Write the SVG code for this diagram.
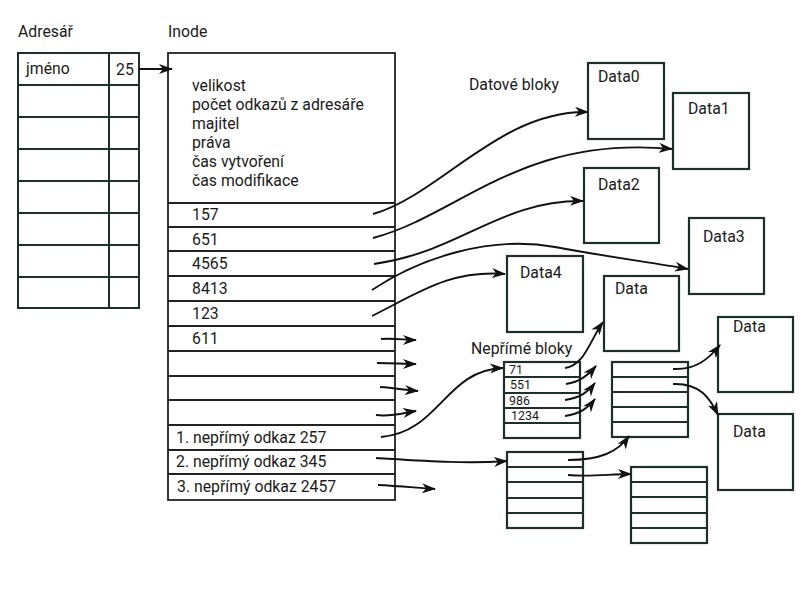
<svg xmlns="http://www.w3.org/2000/svg" width="808" height="589" viewBox="0 0 808 589">
<style>
text{font-family:Roboto,"Liberation Sans",sans-serif;font-size:15.8px;fill:#1a1a1a}
.sm{font-size:12.4px}
.dir{fill:#fff;stroke:#1e2e28;stroke-width:2}
.ino{fill:#fff;stroke:#222;stroke-width:1.8}
.blk{fill:#fff;stroke:#1e2e28;stroke-width:2.2}
.ln{stroke:#1e2e28;stroke-width:2;fill:none}
.il{stroke:#222;stroke-width:1.8;fill:none}
.c{fill:none;stroke:#111;stroke-width:1.9;marker-end:url(#ah)}
</style>
<defs>
<marker id="ah" viewBox="0 0 14 10" refX="13" refY="5" markerWidth="14" markerHeight="10" markerUnits="userSpaceOnUse" orient="auto">
<path d="M0,0 L14,5 L0,10 L4,5 z" fill="#111"/>
</marker>
</defs>
<rect width="808" height="589" fill="#fff"/>
<text x="18" y="37">Adresář</text>
<text x="168" y="37">Inode</text>
<text x="469" y="90">Datové bloky</text>
<text x="471" y="354">Nepřímé bloky</text>

<g id="adresar">
<rect class="dir" x="18" y="53" width="121" height="255"/>
<path class="ln" d="M109,53V308M18,85H139M18,117H139M18,149H139M18,181H139M18,213H139M18,245H139M18,277H139"/>
<text x="26" y="74">jméno</text>
<text x="116" y="75">25</text>
</g>

<g id="inode">
<rect class="ino" x="168" y="53" width="227" height="447"/>
<path class="il" d="M168,203H395M168,227H395M168,251H395M168,276H395M168,301H395M168,326H395M168,351H395M168,376H395M168,400H395M168,425H395M168,450H395M168,474H395"/>
<text x="192" y="91">velikost</text>
<text x="192" y="110">počet odkazů z adresáře</text>
<text x="192" y="129">majitel</text>
<text x="192" y="148">práva</text>
<text x="192" y="167">čas vytvoření</text>
<text x="192" y="186">čas modifikace</text>
<text x="192" y="220">157</text>
<text x="192" y="245">651</text>
<text x="192" y="269">4565</text>
<text x="192" y="294">8413</text>
<text x="192" y="319">123</text>
<text x="192" y="344">611</text>
<text x="176" y="443">1. nepřímý odkaz 257</text>
<text x="176" y="467">2. nepřímý odkaz 345</text>
<text x="177" y="492">3. nepřímý odkaz 2457</text>
</g>

<g id="data0"><rect class="blk" x="588" y="63" width="76" height="76"/><text x="598" y="82">Data0</text></g>
<g id="data1"><rect class="blk" x="673" y="93" width="76" height="76"/><text x="688" y="114">Data1</text></g>
<g id="data2"><rect class="blk" x="584" y="168" width="75" height="75"/><text x="598" y="190">Data2</text></g>
<g id="data3"><rect class="blk" x="689" y="218" width="75" height="76"/><text x="703" y="242">Data3</text></g>
<g id="data4"><rect class="blk" x="507" y="256" width="76" height="76"/><text x="520" y="278">Data4</text></g>
<g id="data5"><rect class="blk" x="604" y="276" width="75" height="75"/><text x="615" y="294">Data</text></g>
<g id="data6"><rect class="blk" x="718" y="317" width="75" height="75"/><text x="733" y="332">Data</text></g>
<g id="data7"><rect class="blk" x="718" y="414" width="75" height="76"/><text x="733" y="437">Data</text></g>

<g id="neprimy1">
<rect class="blk" x="504" y="362" width="76" height="76"/>
<path class="ln" d="M504,377H580M504,393H580M504,408H580M504,423H580"/>
<text class="sm" x="509" y="374">71</text>
<text class="sm" x="510" y="389">551</text>
<text class="sm" x="509" y="405">986</text>
<text class="sm" x="511" y="420">1234</text>
</g>
<g id="neprimy2">
<rect class="blk" x="507" y="452" width="76" height="76"/>
<path class="ln" d="M507,467H583M507,482H583M507,498H583M507,513H583"/>
</g>
<g id="neprimy3">
<rect class="blk" x="612" y="362" width="76" height="75"/>
<path class="ln" d="M612,377H688M612,392H688M612,407H688M612,422H688"/>
</g>
<g id="neprimy4">
<rect class="blk" x="631" y="467" width="76" height="76"/>
<path class="ln" d="M631,482H707M631,497H707M631,513H707M631,528H707"/>
</g>

<g id="connectors">
<path class="c" d="M139,69H172"/>
<path class="c" d="M373,214C440,195 500,110 588,112"/>
<path class="c" d="M373,238C460,215 520,135 672,149"/>
<path class="c" d="M374,264C460,252 500,200 583,201"/>
<path class="c" d="M372,290C420,258 490,235 555,247S650,262 688,269"/>
<path class="c" d="M372,316C420,292 450,270 505,274"/>
<path class="c" d="M381,339C395,338 405,340 416,340"/>
<path class="c" d="M377,363C392,363 404,364 416,364"/>
<path class="c" d="M380,387C395,388 405,390 418,391"/>
<path class="c" d="M376,415C392,417 403,413 416,411"/>
<path class="c" d="M381,437C440,432 445,370 503,368"/>
<path class="c" d="M376,458C425,461 465,464 507,461"/>
<path class="c" d="M378,485C400,486 418,488 435,489"/>
<path class="c" d="M565,368C585,365 590,340 603,322"/>
<path class="c" d="M566,384C580,382 588,375 596,366"/>
<path class="c" d="M565,400C580,398 588,392 595,383"/>
<path class="c" d="M565,416C580,414 588,408 595,399"/>
<path class="c" d="M568,460C600,460 618,452 629,436"/>
<path class="c" d="M568,475C590,477 610,474 631,474"/>
<path class="c" d="M673,369C695,370 708,360 720,345"/>
<path class="c" d="M673,384C700,383 710,398 718,415"/>
</g>
</svg>
